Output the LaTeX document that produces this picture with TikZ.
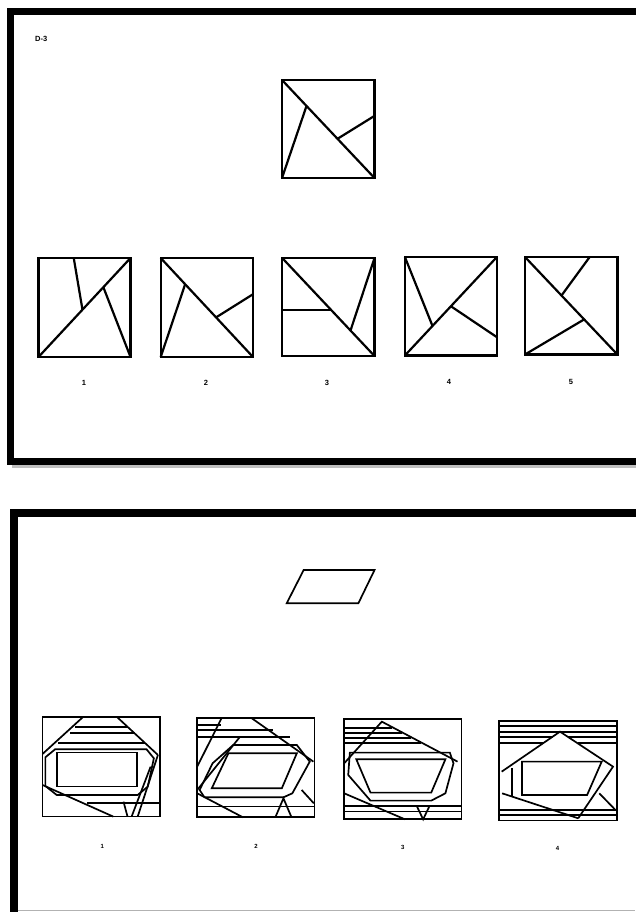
\documentclass[tikz,border=0pt]{standalone}
\usepackage{fontspec}
\setmainfont{Liberation Sans}
\begin{document}
\begin{tikzpicture}[x=1pt,y=-1pt]
\tikzset{fig/.style={line width=2.2pt, line join=miter},
  thinfig/.style={line width=1.7pt, line join=miter},
  frame/.style={line width=7pt},
  lab/.style={font=\fontsize{7.5}{7.5}\selectfont\bfseries, inner sep=0pt},
  blab/.style={font=\fontsize{6}{6}\selectfont\bfseries, inner sep=0pt}}
\useasboundingbox (0,0) rectangle (635,912);
\fill[white] (0,0) rectangle (635,912);
% ---------- top panel ----------
\draw[gray!50, line width=3pt] (12,466.5) -- (640,466.5);
\draw[frame] (660,11.7) -- (10.7,11.7) -- (10.7,461) -- (660,461);
\node[lab, anchor=west] (d3) at (35,39) {D-3};
% target
\begin{scope}[shift={(282,80)}, x=92.5pt, y=-98pt]
  \draw[fig] (0,0) rectangle (1,1);
  \draw[fig] (0,0) -- (1,1);
  \draw[fig] (0,1) -- (0.265,0.265);
  \draw[fig] (0.6,0.6) -- (1,0.366);
\end{scope}
% option 1
\begin{scope}[shift={(38.5,258)}, x=92pt, y=-99pt]
  \draw[fig] (0,0) rectangle (1,1);
  \draw[fig] (0,1) -- (1,0);
  \draw[fig] (0.383,0) -- (0.478,0.522);
  \draw[fig] (0.705,0.295) -- (1,1);
\end{scope}
% option 2
\begin{scope}[shift={(160.7,258)}, x=92.3pt, y=-99pt]
  \draw[fig] (0,0) rectangle (1,1);
  \draw[fig] (0,0) -- (1,1);
  \draw[fig] (0,1) -- (0.265,0.265);
  \draw[fig] (0.6,0.6) -- (1,0.366);
\end{scope}
% option 3
\begin{scope}[shift={(282.2,258)}, x=92.3pt, y=-98pt]
  \draw[fig] (0,0) rectangle (1,1);
  \draw[fig] (0,0) -- (1,1);
  \draw[fig] (0,0.534) -- (0.534,0.534);
  \draw[fig] (1,0) -- (0.74,0.74);
\end{scope}
% option 4
\begin{scope}[shift={(404.9,257)}, x=92pt, y=-98.5pt]
  \draw[fig] (0,0) rectangle (1,1);
  \draw[fig] (0,1) -- (1,0);
  \draw[fig] (0,0) -- (0.3,0.7);
  \draw[fig] (0.5,0.5) -- (1,0.814);
\end{scope}
% option 5
\begin{scope}[shift={(525,257)}, x=92.4pt, y=-97.5pt]
  \draw[fig] (0,0) rectangle (1,1);
  \draw[fig] (0,0) -- (1,1);
  \draw[fig] (0.70,0) -- (0.395,0.395);
  \draw[fig] (0,1) -- (0.64,0.64);
\end{scope}
\node[lab] (t1) at (84,383) {1};
\node[lab] (t2) at (206,383) {2};
\node[lab] (t3) at (327,383) {3};
\node[lab] (t4) at (449,382) {4};
\node[lab] (t5) at (571,382) {5};
% ---------- bottom panel ----------
\draw[frame, line width=8pt] (660,512.5) -- (14,512.5) -- (14,915);
\draw[gray!60, line width=0.8pt] (18,910.5) -- (635,910.5);
\begin{scope}[shift={(0,500)}, x=0.4049pt, y=-0.3333pt]
  % target parallelogram
  \draw[thinfig] (750,210) -- (925,210) -- (885,310) -- (708,310) -- cycle;
  % option 1
  \draw[thinfig] (105,650) rectangle (395,950);
  \draw[thinfig] (206,650) -- (105,762);
  \draw[thinfig] (288,650) -- (390,765);
  \draw[thinfig] (185,680) -- (317,680);
  \draw[thinfig] (173,700) -- (333,700);
  \draw[thinfig] (144,730) -- (358,730);
  \draw[thinfig] (136,748) -- (362,748) -- (380,775) -- (365,860) -- (340,885) -- (140,885) -- (112,858) -- (112,772) -- cycle;
  \draw[thinfig] (140,758) rectangle (338,860);
  \draw[thinfig] (105,855) -- (280,950);
  \draw[thinfig] (215,910) -- (395,910);
  \draw[thinfig] (390,765) -- (340,950);
  \draw[thinfig] (372,800) -- (325,950);
  \draw[thinfig] (305,905) -- (315,950);
  % option 2
  \draw[thinfig] (487,655) rectangle (777,952);
  \draw[thinfig] (487,675) -- (547,675);
  \draw[thinfig] (487,690) -- (675,690);
  \draw[thinfig] (487,710) -- (716,710);
  \draw[thinfig] (547,655) -- (487,800);
  \draw[thinfig] (622,655) -- (774,785);
  \draw[thinfig] (593,710) -- (487,870);
  \draw[thinfig] (576,735) -- (733,735) -- (765,785) -- (722,880) -- (700,892) -- (505,892) -- (493,870) -- (525,790) -- cycle;
  \draw[thinfig] (564,760) -- (733,760) -- (696,865) -- (523,865) -- cycle;
  \draw[thinfig] (487,880) -- (600,952);
  \draw[thinfig] (487,920) -- (777,920);
  \draw[thinfig] (680,952) -- (700,895) -- (720,952);
  \draw[thinfig] (745,870) -- (775,910);
  % option 3
  \draw[thinfig] (850,658) rectangle (1140,958);
  \draw[thinfig] (850,685) -- (969,685);
  \draw[thinfig] (850,700) -- (992,700);
  \draw[thinfig] (850,715) -- (1016,715);
  \draw[thinfig] (850,730) -- (1039,730);
  \draw[thinfig] (850,790) -- (943,665) -- (1130,785);
  \draw[thinfig] (864,758) -- (1111,758) -- (1120,790) -- (1100,880) -- (1065,902) -- (915,902) -- (860,825) -- cycle;
  \draw[thinfig] (880,778) -- (1100,778) -- (1065,878) -- (915,878) -- cycle;
  \draw[thinfig] (850,880) -- (1000,958);
  \draw[thinfig] (850,918) -- (1140,918);
  \draw[thinfig] (850,935) -- (1140,935);
  \draw[thinfig] (1030,920) -- (1045,958) -- (1060,920);
  % option 4
  \draw[thinfig] (1233,662) rectangle (1523,962);
  \draw[thinfig] (1233,678) -- (1523,678);
  \draw[thinfig] (1233,695) -- (1523,695);
  \draw[thinfig] (1233,710) -- (1365,710);
  \draw[thinfig] (1402,710) -- (1523,710);
  \draw[thinfig] (1233,730) -- (1341,730);
  \draw[thinfig] (1427,730) -- (1523,730);
  \draw[thinfig] (1239,815) -- (1383,695) -- (1514,800) -- (1428,955);
  \draw[thinfig] (1264,804) -- (1264,890);
  \draw[thinfig] (1289,785) -- (1486,785) -- (1450,885) -- (1289,885) -- cycle;
  \draw[thinfig] (1240,880) -- (1428,955);
  \draw[thinfig] (1233,930) -- (1523,930);
  \draw[thinfig] (1233,945) -- (1523,945);
  \draw[thinfig] (1480,880) -- (1520,930);
\end{scope}
\node[blab] (b1) at (102.4,846.5) {1};
\node[blab] (b2) at (256,846.5) {2};
\node[blab] (b3) at (402.8,847) {3};
\node[blab] (b4) at (557.5,848) {4};
\end{tikzpicture}
\end{document}
